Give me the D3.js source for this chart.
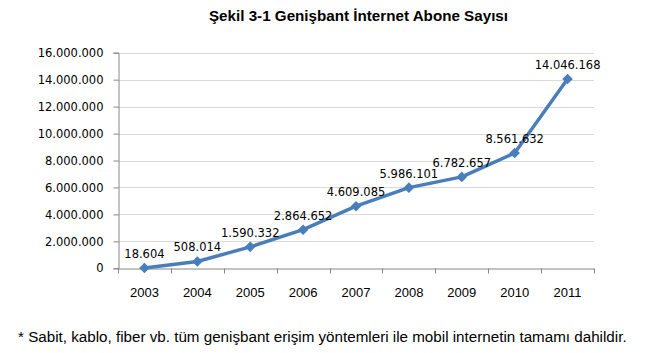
<!DOCTYPE html>
<html><head><meta charset="utf-8">
<script src="https://cdn.jsdelivr.net/npm/d3@7"></script>
<style>body{margin:0;background:#fff}svg{display:block}</style>
</head><body>
<svg id="c" width="660" height="353"></svg>
<script>
const years = ["2003","2004","2005","2006","2007","2008","2009","2010","2011"];
const subscribers = [18604, 508014, 1590332, 2864652, 4609085, 5986101, 6782657, 8561632, 14046168];
const yTicks = [0, 2000000, 4000000, 6000000, 8000000, 10000000, 12000000, 14000000, 16000000];
const title = "Şekil 3-1 Genişbant İnternet Abone Sayısı";
const footnote = "* Sabit, kablo, fiber vb. tüm genişbant erişim yöntemleri ile mobil internetin tamamı dahildir.";

const svg = d3.select("#c");
const m = {l:118, r:594, t:52.7, b:268.3};
const fmt = v => d3.format(",")(v).replace(/,/g, ".");

const x = d3.scaleBand().domain(years).range([m.l, m.r]).padding(0);
const y = d3.scaleLinear().domain([0, 16000000]).range([m.b, m.t]);

// gridlines
svg.append("g").selectAll("line").data(yTicks.filter(d=>d>0)).join("line")
  .attr("x1", m.l).attr("x2", m.r)
  .attr("y1", d=>Math.round(y(d))+0.5).attr("y2", d=>Math.round(y(d))+0.5)
  .attr("stroke", "#d9d9d9").attr("stroke-width", 1);

// y axis
const ya = svg.append("g").attr("transform", `translate(${Math.round(m.l)+0.5},0)`)
  .call(d3.axisLeft(y).tickValues(yTicks).tickFormat(fmt).tickSizeOuter(0).tickSize(5).tickPadding(10));
ya.select(".domain").attr("stroke", "#868686");
ya.selectAll(".tick line").attr("stroke", "#868686");
ya.selectAll("text").attr("font-family", "DejaVu Sans").attr("font-size", "11.5px").attr("fill", "#000");

// x axis
const xa = svg.append("g").attr("transform", `translate(0,${Math.round(m.b)+0.5})`)
  .call(d3.axisBottom(x).tickSize(0).tickPadding(19).tickSizeOuter(0));
xa.select(".domain").attr("stroke", "#868686");
xa.selectAll("text").attr("font-family", "Liberation Sans").attr("font-size", "13px").attr("fill", "#000");
const bounds = years.map(d=>x(d)).concat([x.range()[1]]);
xa.append("g").selectAll("line").data(bounds).join("line")
  .attr("x1", d=>Math.round(d)+0.5).attr("x2", d=>Math.round(d)+0.5)
  .attr("y1", 0).attr("y2", 5).attr("stroke", "#868686");

// line
const cx = d => x(d) + x.bandwidth()/2;
const line = d3.line().x((d,i)=>cx(years[i])).y(d=>y(d));
svg.append("path").datum(subscribers).attr("d", line)
  .attr("fill", "none").attr("stroke", "#4a7ebb").attr("stroke-width", 3.5).attr("stroke-linejoin", "round");

// markers (rotated squares)
svg.append("g").selectAll("path").data(subscribers).join("path")
  .attr("d", d3.symbol().type(d3.symbolSquare).size(56))
  .attr("transform", (d,i)=>`translate(${cx(years[i])},${y(d)}) rotate(45)`)
  .attr("fill", "#4a7ebb");

// labels
svg.append("g").selectAll("text").data(subscribers).join("text")
  .attr("x", (d,i)=>cx(years[i])).attr("y", d=>y(d)-14)
  .attr("dy", "0.35em").attr("text-anchor", "middle")
  .attr("font-family", "DejaVu Sans").attr("font-size", "11.5px").attr("fill", "#000")
  .text(fmt);

// title
svg.append("text").attr("x", 358.5).attr("y", 21).attr("text-anchor", "middle")
  .attr("font-family", "Liberation Sans").attr("font-weight", "bold").attr("font-size", "15.2px")
  .text(title);

// footnote
svg.append("text").attr("x", 18).attr("y", 342)
  .attr("font-family", "Liberation Sans").attr("font-size", "15.2px")
  .text(footnote);
</script>
</body></html>
